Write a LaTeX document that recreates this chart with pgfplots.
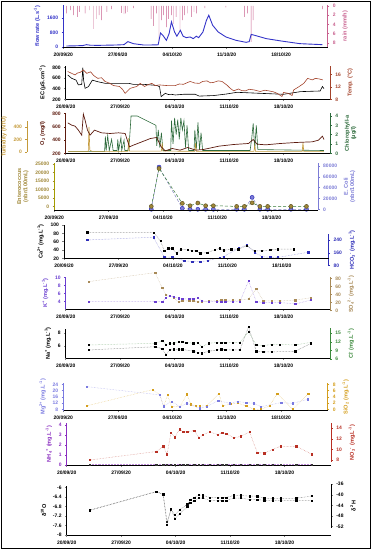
\documentclass[border=0pt]{standalone}
\usepackage{fontspec}
\setmainfont{Liberation Sans}
\usepackage{pgfplots}
\pgfplotsset{compat=1.18}
\definecolor{flowblue}{HTML}{3434C8}
\definecolor{rainpink}{HTML}{C8608E}
\definecolor{tempred}{HTML}{A3432B}
\definecolor{otwo}{HTML}{5C1A0E}
\definecolor{turb}{HTML}{C49A3A}
\definecolor{chl}{HTML}{2E6B3C}
\definecolor{entero}{HTML}{A08838}
\definecolor{ecoli}{HTML}{7C7CD6}
\definecolor{hco}{HTML}{2E2EB8}
\definecolor{kcol}{HTML}{6A3ED0}
\definecolor{so}{HTML}{A88A58}
\definecolor{clc}{HTML}{3C8A3C}
\definecolor{mgc}{HTML}{7A7AE0}
\definecolor{sio}{HTML}{D49E1C}
\definecolor{nhc}{HTML}{8A2EC0}
\definecolor{noc}{HTML}{B83024}
\newcommand\tk{\fontsize{5}{5.5}\selectfont\bfseries}
\newcommand\lb{\fontsize{5.6}{6.2}\selectfont\bfseries}
\pgfplotsset{
  every axis/.append style={scale only axis, clip=false, xmin=0, xmax=34,
    /pgf/number format/assume math mode=true, /pgf/number format/1000 sep={},
    scaled ticks=false, tick align=outside, major tick length=1.6bp,
    tick style={line width=0.5pt}, axis line style={-, line width=0.7pt},
    ticklabel style={font=\tk}, label style={font=\lb},
    xticklabel style={yshift=-0.5bp}},
  L/.style={axis x line*=bottom, axis y line*=left, xtick={0,7,14,21,28},
    xticklabels={20/09/20,27/09/20,04/10/20,11/10/20,18/10/20}},
  R/.style={axis x line=none, axis y line*=right},
  col/.style={y axis line style={#1}, y tick style={#1}, yticklabel style={#1}, ylabel style={#1}},
  pts/.style={densely dotted, line width=0.5pt, #1!55, mark=square*, mark size=0.65bp, mark options={solid, fill=#1, draw=#1}},
}
\begin{document}
\begin{tikzpicture}
\useasboundingbox (0bp,0bp) rectangle (372bp,550bp);
\draw[line width=0.8pt] (1.5bp,1.5bp) rectangle (370.5bp,548.5bp);

% ---------- Panel 1: flow / rain
\begin{axis}[R, at={(63.3bp,503bp)}, anchor=south west, width=264.5bp, height=42bp,
  y dir=reverse, ymin=-0.2, ymax=8.9, ytick={0,2,4,6,8}, col=rainpink, ylabel={rain (mm/h)}]
\addplot[ybar, bar width=0.45bp, fill=rainpink, draw=none] coordinates {
(0.4,1.6)(0.9,0.9)(1.3,2)(1.8,2.4)(2.1,1.3)(2.8,1.6)(3.4,0.9)(3.85,5)(4.3,2.8)(4.6,2)(4.9,3.1)
(5.6,1.3)(6.2,0.7)(7.5,1.5)(7.8,1.8)(8.0,1.6)(8.25,1.3)(9,0.5)(11.3,2.8)(11.6,4.3)(12.0,1.6)
(12.3,7.6)(12.6,3.1)(12.9,2)(13.25,4.6)(13.55,2.8)(13.9,2)(14.2,3.9)(14.5,2.4)(15.0,5.4)
(15.3,3.1)(15.6,2)(16.0,1.6)(16.5,2.4)(16.8,1.3)(17.1,1.6)(18.2,0.5)(20.9,0.3)(23.3,2.4)
(23.7,1.6)(24.15,7.8)(24.4,3.1)(33.3,0.7)};
\end{axis}
\begin{axis}[L, at={(63.3bp,503bp)}, anchor=south west, width=264.5bp, height=42bp,
  ymin=0, ymax=2340, ytick={0,800,1600}, col=flowblue, ylabel={flow rate (L.s\textsuperscript{-1})}]
\addplot[flowblue, line width=0.9pt] coordinates {
(0.4,56)(1.5,65)(2.5,80)(3.0,130)(3.5,95)(4.7,93)(6.8,111)(7.8,130)(8.3,300)(9.0,186)(10.3,112)
(12.0,115)(12.2,130)(12.5,780)(12.8,650)(13.25,370)(13.6,740)(13.9,1400)(14.3,840)(14.6,600)
(15.05,930)(15.4,600)(15.8,520)(16.3,560)(16.7,465)(17.1,600)(17.4,520)(17.95,840)(18.4,1490)
(18.7,1770)(19.2,1210)(19.9,840)(20.9,560)(22.2,370)(23.5,260)(23.9,300)(24.15,700)(24.6,650)
(26.1,465)(28,335)(30.4,186)(33.3,130)};
\end{axis}

% ---------- Panel 2: EC / Temp
\begin{axis}[L, at={(65.7bp,450.7bp)}, anchor=south west, width=264.5bp, height=33.3bp,
  ymin=200, ymax=825, ytick={200,400,600,800}, ylabel={EC (µS.cm\textsuperscript{-1})}]
\addplot[black, line width=0.6pt] coordinates {
(0.26,656)(0.77,594)(1.33,560)(1.63,470)(2.06,480)(2.2,794)(2.3,560)(2.49,406)(2.92,437)(3.43,560)
(4.12,530)(5.06,500)(6.14,500)(8.07,500)(8.7,480)(10.1,480)(11.7,460)(12.06,437)(12.27,250)
(12.8,312)(13.2,290)(13.56,294)(14.08,281)(15.15,294)(16.65,294)(17.17,260)(19.0,270)(20.7,300)
(22.0,331)(25.0,312)(28.0,294)(30.2,344)(32.7,356)(33.0,440)(33.2,400)};
\end{axis}
\begin{axis}[R, at={(65.7bp,450.7bp)}, anchor=south west, width=264.5bp, height=33.3bp,
  ymin=8, ymax=18.66, ytick={8,12,16}, col=tempred, ylabel={Temp. (°C)}]
\addplot[tempred, line width=0.6pt] coordinates {
(0.26,16.9)(0.77,16.3)(1.2,15.8)(1.5,16.4)(1.85,16.6)(2.27,17.4)(2.7,16.3)(3.2,16.8)(3.6,15.6)(4.12,14.7)
(4.6,14.9)(5.06,13.7)(5.6,13.2)(6.14,12.4)(6.9,12.1)(7.3,11.2)(7.64,9.9)(8.28,11.5)(8.7,11.8)(9.14,12.1)
(9.57,13.1)(10.13,12.1)(10.6,12.7)(11.07,13.1)(11.5,12.4)(12.06,12.6)(13.0,12.4)(14.08,12.4)(14.6,12.9)
(15.15,12.8)(15.6,13.3)(16.0,13.7)(16.6,13.2)(17.17,13.1)(17.6,13.7)(18.15,13.9)(18.6,13.3)(19.0,13.4)
(19.6,13.9)(20.1,13.7)(20.7,12.6)(21.2,11.4)(21.6,10.7)(22.2,11.3)(22.6,10.8)(23.1,10.7)(23.6,11.2)
(24.2,11.0)(25.0,10.5)(25.6,10.9)(26.1,10.7)(26.7,10.4)(27.2,9.9)(27.8,8.9)(28.0,10.2)(28.6,9.9)
(29.1,9.2)(29.3,11.0)(29.9,11.9)(30.6,13.1)(31.1,14.7)(31.7,14.2)(32.1,14.7)(32.6,14.5)(33.05,14.2)};
\end{axis}

% ---------- Panel 3: O2 / turbidity / chlorophyll
\begin{axis}[at={(27bp,398bp)}, anchor=south west, width=1bp, height=31bp, xmin=0, xmax=1,
  axis x line=none, axis y line*=left, ymin=0, ymax=496, ytick={0,200,400}, col=turb,
  ylabel={Turbidity (NTU)}]
\end{axis}
\begin{axis}[R, at={(65.7bp,396.5bp)}, anchor=south west, width=264.5bp, height=40.5bp,
  ymin=-0.02, ymax=4.32, ytick={0,1,2,3,4}, col=chl, ylabel style={align=center},
  ylabel={Chlorophyll-a\\(µg/l)}]
\addplot[chl, line width=0.6pt] coordinates {
(0.3,0.2)(5.0,0.2)(5.1,1.8)(5.2,0.3)(5.4,1.9)(5.6,0.3)(5.9,1.5)(6.1,0.3)(6.6,0.3)(6.7,1.5)(6.8,0.3)
(7.1,1.7)(7.2,0.3)(7.5,1.4)(7.6,0.3)(8.0,0.3)(8.2,1.4)(8.4,4.0)(9.2,4.0)(11.6,3.0)(11.7,0.8)(11.9,2.5)
(12.1,0.6)(12.3,2.2)(12.5,0.3)(13.5,0.3)(13.6,3.5)(13.8,1.0)(14.0,3.8)(14.2,2.0)(14.4,3.6)(14.6,1.5)
(14.8,3.8)(15.0,2.5)(15.2,3.5)(15.4,0.6)(15.6,3.0)(15.8,0.3)(16.5,0.3)(16.6,2.5)(16.8,0.5)(17.0,3.3)
(17.2,0.4)(17.4,2.2)(17.6,0.3)(23.7,0.3)(23.9,1.5)(24.1,3.2)(24.3,0.5)(24.5,3.0)(24.7,0.4)(33.2,0.3)};
\end{axis}
\begin{axis}[hide axis, at={(65.7bp,396.5bp)}, anchor=south west, width=264.5bp, height=40.5bp,
  ymin=-24, ymax=624]
\addplot[turb, line width=0.6pt] coordinates {
(0.3,5)(2.9,5)(3.0,400)(3.1,30)(3.4,10)(8.0,10)(8.1,220)(8.2,15)(12.3,15)(12.4,140)(12.5,15)
(16.6,10)(16.7,140)(16.8,10)(24.2,10)(24.3,110)(24.4,10)(30.4,10)(30.5,150)(30.6,10)(33.2,10)};
\end{axis}
\begin{axis}[L, at={(65.7bp,396.5bp)}, anchor=south west, width=264.5bp, height=40.5bp,
  ymin=200, ymax=807, ytick={200,400,600,800}, col=otwo, ylabel={O\textsubscript{2} (mg/l)}]
\addplot[otwo, line width=0.7pt] coordinates {
(0.26,660)(0.77,625)(1.2,610)(1.63,550)(2.06,475)(2.27,790)(2.49,700)(2.8,550)(3.13,475)(3.7,550)
(4.6,510)(5.7,500)(6.8,510)(7.64,500)(8.2,300)(8.7,325)(9.8,375)(10.9,425)(11.7,440)(12.27,300)
(12.8,240)(13.7,275)(14.7,250)(15.7,290)(16.7,250)(17.7,260)(19.7,310)(21.6,335)(23.5,350)(24.1,410)
(24.6,340)(25.7,330)(27.6,350)(29.6,365)(31.7,375)(32.5,400)(33.0,460)(33.2,410)};
\end{axis}

% ---------- Panel 4: bacteria
\begin{axis}[R, at={(54.3bp,340bp)}, anchor=south west, width=263.8bp, height=47bp,
  ymin=-1300, ymax=85500, ytick={0,20000,40000,60000,80000}, col=ecoli,
  ylabel style={align=center}, ylabel={E. Coli\\(nbr/100mL)}]
\addplot[densely dashed, line width=0.5pt, ecoli!70!gray, mark=*, mark size=2bp,
  mark options={solid, fill=ecoli, draw=hco}] coordinates {
(12.5,0)(13.5,78000)(16.5,1800)(17.5,0)(18.5,0)(19.5,0)(20.5,0)(23.5,0)(24.5,0)(25.5,22000)
(26.5,0)(27.5,0)(30.5,0)(32.5,0)};
\end{axis}
\begin{axis}[L, at={(54.3bp,340bp)}, anchor=south west, width=263.8bp, height=47bp,
  ymin=-1900, ymax=25600, ytick={0,5000,10000,15000,20000,25000}, col=entero,
  y axis line style={olive!80!yellow}, ylabel style={align=center}, ylabel={Enterococcus\\(nbr/100mL)}]
\addplot[densely dashed, line width=0.5pt, black!55!green!60!gray, mark=*, mark size=2bp,
  mark options={solid, fill=entero, draw=entero!60!black}] coordinates {
(12.5,200)(13.5,22400)(16.5,2000)(17.5,600)(18.5,2200)(19.5,600)(20.5,600)(23.5,200)(24.5,200)
(25.5,2300)(26.5,200)(27.5,200)(30.5,200)(32.5,200)};
\end{axis}

% ---------- Panel 5: Ca / HCO3
\begin{axis}[R, at={(64bp,284bp)}, anchor=south west, width=264.5bp, height=32bp,
  ymin=78, ymax=277, ytick={80,160,240}, col=hco,
  ylabel={HCO\textsubscript{3}\textsuperscript{-} (mg.L\textsuperscript{-1})}]
\addplot[pts=hco] coordinates {
(3.0,240)(11.5,257)(12.9,132)(13.9,134)(15.45,111)(16.5,105)(17.5,105)(18.45,111)(20.0,130)
(20.5,136)(22.45,188)(23.5,209)(24.5,163)(25.45,136)(26.5,132)(27.5,132)(31.4,163)};
\end{axis}
\begin{axis}[L, at={(64bp,291.7bp)}, anchor=south west, width=264.5bp, height=33.3bp,
  ymin=20, ymax=100, ytick={20,40,60,80,100}, ylabel={Ca\textsuperscript{2+} (mg.L\textsuperscript{-1})}]
\addplot[pts=black] coordinates {
(3.0,82.4)(11.5,82)(12.4,61.6)(12.9,38)(13.4,44)(13.9,44)(14.5,32)(15.0,42)(15.9,40)(16.4,37.6)
(17.0,37.6)(17.5,32)(18.4,34)(19.4,40)(20.0,44)(20.5,39)(21.5,42)(22.4,42)(23.5,50)(24.5,37.6)
(25.4,37.6)(26.5,40)(27.5,42)(29.5,42)};
\end{axis}

% ---------- Panel 6: K / SO4
\begin{axis}[R, at={(65.7bp,238.5bp)}, anchor=south west, width=264.5bp, height=34.5bp,
  ymin=-2, ymax=83.2, ytick={0,20,40,60,80}, col=so,
  ylabel={SO\textsubscript{4}\textsuperscript{2-} (mg.L\textsuperscript{-1})}]
\addplot[pts=so] coordinates {
(3.0,72)(11.5,94)(12.4,56)(12.9,40)(13.4,37)(13.9,32)(14.5,22)(15.0,24)(15.9,24)(16.4,24)(17.0,22)
(17.5,22)(18.4,24)(19.4,24)(20.0,26)(20.5,26)(21.5,26)(22.4,26)(23.5,29)(24.5,54)(25.4,24)(26.5,24)
(27.5,24)(29.5,26)(31.5,32)};
\end{axis}
\begin{axis}[L, at={(65.7bp,240.7bp)}, anchor=south west, width=264.5bp, height=32.3bp,
  ymin=2.1, ymax=10.1, ytick={2,4,6,8,10}, col=kcol, ylabel={K\textsuperscript{+} (mg.L\textsuperscript{-1})}]
\addplot[pts=kcol] coordinates {
(3.0,4.0)(11.5,4.0)(12.4,4.0)(12.9,5.0)(13.4,5.4)(13.9,5.2)(14.5,4.8)(15.0,4.7)(15.9,4.7)(16.4,4.7)
(17.0,5.0)(17.5,4.2)(18.4,4.0)(19.4,4.0)(20.0,4.0)(20.5,4.0)(21.5,4.0)(22.4,4.0)(23.5,9.1)(24.5,4.0)
(25.4,3.8)(26.5,3.8)(27.5,3.8)(29.5,3.4)(31.5,4.4)};
\end{axis}

% ---------- Panel 7: Na / Cl
\begin{axis}[R, at={(65.7bp,190bp)}, anchor=south west, width=264.5bp, height=32bp,
  ymin=5.65, ymax=16.84, ytick={6,9,12,15}, col=clc,
  ylabel={Cl\textsuperscript{-} (mg.L\textsuperscript{-1})}]
\addplot[densely dotted, line width=0.5pt, clc!55, mark=square*, mark size=0.65bp,
  mark options={solid, fill=black, draw=black}] coordinates {
(3.0,10.9)(11.5,11.5)(12.4,12.3)(12.9,11.1)(13.4,11.5)(13.9,11.5)(14.5,12.0)(15.0,12.0)(15.5,11.8)
(16.4,11.5)(17.0,11.8)(17.5,10.3)(18.4,11.5)(19.4,11.8)(20.0,11.8)(20.5,11.8)(21.5,11.8)(22.4,11.8)
(23.5,15.5)(24.5,10.9)(25.4,10.7)(26.5,11.1)(27.5,11.1)(29.5,10.9)(31.5,11.8)};
\end{axis}
\begin{axis}[L, at={(65.7bp,191.7bp)}, anchor=south west, width=264.5bp, height=29.3bp,
  ymin=4.1, ymax=8.66, ytick={4,6,8}, ylabel={Na\textsuperscript{+} (mg.L\textsuperscript{-1})}]
\addplot[pts=black] coordinates {
(3.0,5.4)(11.5,5.9)(12.4,5.6)(12.9,4.7)(13.4,5.4)(13.9,5.5)(14.5,5.5)(15.0,5.5)(16.4,5.2)(17.0,5.0)
(17.5,4.9)(18.4,5.2)(19.4,5.4)(20.0,5.5)(20.5,5.4)(21.5,5.4)(22.4,5.4)(23.5,9.0)(24.5,5.2)(25.4,5.1)
(26.5,5.1)(29.5,5.2)(31.5,6.4)};
\end{axis}

% ---------- Panel 8: Mg / SiO2
\begin{axis}[R, at={(63.3bp,139bp)}, anchor=south west, width=264.5bp, height=28bp,
  ymin=-0.54, ymax=8.42, ytick={0,2,4,6,8}, col=sio,
  ylabel={SiO\textsubscript{2} (mg.L\textsuperscript{-1})}]
\addplot[pts=sio] coordinates {
(3.0,1.1)(11.5,6.3)(12.4,4.6)(12.9,0.9)(13.4,4.6)(13.9,0.9)(15.0,0.9)(15.9,4.8)(16.4,1.6)(17.0,1.1)
(17.5,1.1)(18.4,1.1)(20.0,5.0)(20.5,1.1)(21.5,1.7)(22.4,2.0)(23.5,1.1)(24.5,0)(25.4,0)(26.5,1.1)
(27.5,5.0)(29.5,0)(31.5,5.0)};
\end{axis}
\begin{axis}[L, at={(63.3bp,139.3bp)}, anchor=south west, width=264.5bp, height=27.7bp,
  ymin=7.1, ymax=24.83, ytick={8,12,16,20,24}, col=mgc,
  ylabel={Mg\textsuperscript{2+} (mg.L\textsuperscript{-1})}]
\addplot[pts=mgc] coordinates {
(3.0,22.5)(12.4,17.2)(12.9,10)(13.9,13)(15.0,9.7)(15.9,11.8)(17.5,8.6)(18.4,9.7)(19.9,13.5)(21.4,11.8)
(22.4,13)(23.5,12.3)(24.5,11.8)(25.4,9.7)(28.0,12.3)(29.5,11.8)(31.4,14.4)};
\end{axis}

% ---------- Panel 9: NH4 / NO3
\begin{axis}[R, at={(66.7bp,88bp)}, anchor=south west, width=264.5bp, height=39bp,
  ymin=7.62, ymax=15.0, ytick={8,10,12,14}, col=noc,
  ylabel={NO\textsubscript{3}\textsuperscript{-} (mg.L\textsuperscript{-1})}]
\addplot[pts=noc] coordinates {
(3.0,8.0)(11.5,9.6)(12.4,10.6)(12.9,9.1)(13.4,13.1)(13.9,12.3)(14.5,13.8)(15.0,13.3)(15.5,13.3)
(16.4,13.6)(17.0,12.2)(17.5,12.8)(18.4,13.3)(19.4,12.8)(20.0,13.2)(20.5,13.0)(21.5,12.2)(22.4,12.5)
(23.5,13.3)(24.5,9.4)(25.4,9.3)(26.5,10.0)(27.5,10.6)(29.5,10.6)(31.5,9.1)};
\end{axis}
\begin{axis}[L, at={(66.7bp,85bp)}, anchor=south west, width=264.5bp, height=42bp,
  ymin=0, ymax=4.2, ytick={0,1,2,3,4}, col=nhc,
  ylabel={NH\textsubscript{4}\textsuperscript{+} (mg.L\textsuperscript{-1})}]
\addplot[densely dotted, line width=0.5pt, nhc!55, mark=square*, mark size=0.65bp,
  mark options={solid, fill=black!80, draw=black!80}] coordinates {
(3.0,0.05)(11.5,0.05)(12.4,0.05)(12.9,0.05)(13.4,0.05)(13.9,0.05)(14.5,0.05)(15.0,0.05)(15.5,0.05)
(16.4,0.05)(17.0,0.05)(17.5,0.05)(18.4,0.05)(19.4,0.05)(20.0,0.05)(20.5,0.05)(21.5,0.05)(22.4,0.05)
(23.5,0.05)(24.5,0.05)(25.4,0.05)(26.5,0.05)(27.5,0.05)(29.5,0.05)(31.5,0.05)};
\end{axis}

% ---------- Panel 10: isotopes
\begin{axis}[R, at={(66.7bp,22bp)}, anchor=south west, width=264.5bp, height=44bp,
  ymin=-52.5, ymax=-35.9, ytick={-52,-48,-44,-40,-36}, ylabel={δ\textsuperscript{2}H}]
\addplot[pts=black] coordinates {
(3.0,-45.7)(11.5,-38.8)(12.4,-39.8)(12.9,-50.1)(13.4,-45.7)(13.9,-47.5)(14.5,-45.7)(15.5,-43.5)
(15.9,-41.9)(16.4,-41.0)(17.0,-40.0)(17.5,-40.2)(18.4,-41.0)(19.4,-41.0)(20.0,-41.0)(20.5,-41.0)
(21.5,-40.2)(22.4,-40.2)(23.5,-40.5)(24.5,-40.5)(25.4,-41.3)(26.5,-41.3)(27.5,-41.3)(29.5,-41.3)(31.5,-40.4)};
\end{axis}
\begin{axis}[L, at={(66.7bp,15bp)}, anchor=south west, width=264.5bp, height=49bp,
  ymin=-8, ymax=-5.93, ytick={-8,-7.6,-7.2,-6.8,-6.4,-6}, ylabel={δ\textsuperscript{18}O}]
\addplot[pts=black] coordinates {
(3.0,-6.96)(11.5,-6.17)(12.4,-6.28)(12.9,-7.58)(13.4,-6.89)(13.9,-7.30)(14.5,-7.10)(15.5,-6.82)
(15.9,-6.64)(16.4,-6.54)(17.0,-6.44)(17.5,-6.44)(18.4,-6.54)(19.4,-6.54)(20.0,-6.54)(20.5,-6.54)
(21.5,-6.44)(22.4,-6.44)(23.5,-6.50)(24.5,-6.50)(25.4,-6.54)(26.5,-6.54)(27.5,-6.54)(29.5,-6.54)(31.5,-6.54)};
\end{axis}
\end{tikzpicture}
\end{document}
